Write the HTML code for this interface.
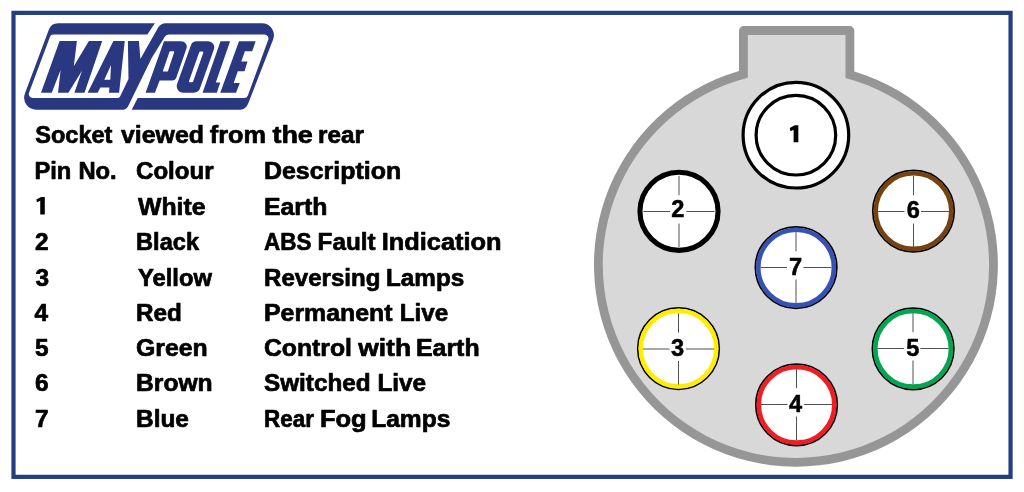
<!DOCTYPE html>
<html><head><meta charset="utf-8"><title>Maypole 7 pin socket</title>
<style>
html,body{margin:0;padding:0;background:#fff;}
body{width:1024px;height:492px;position:relative;overflow:hidden;font-family:"Liberation Sans",sans-serif;}
svg{position:absolute;left:0;top:0;will-change:transform;}
svg text.t{font-size:24.4px;stroke:#000;stroke-width:0.7px;stroke-linejoin:round;}
svg text.d{font-size:23.6px;stroke:#000;stroke-width:0.5px;stroke-linejoin:round;}
svg text{font-family:"Liberation Sans",sans-serif;font-weight:bold;fill:#000;}
</style></head><body>
<svg width="1024" height="492" viewBox="0 0 1024 492">
<rect x="13.5" y="12.85" width="997.05" height="464" fill="none" stroke="#253d82" stroke-width="4.2"/>
<path id="logo" d="M154.90 23.20L58.00 23.20A9.70 9.70 0 0 0 48.91 29.49L24.92 93.49A12.00 12.00 0 0 0 36.15 109.70L122.72 109.70A6.00 6.00 0 0 0 128.11 106.33L151.70 58.00L164.80 36.87A5.00 5.00 0 0 1 169.05 34.50L264.44 34.50A4.00 4.00 0 0 1 268.20 39.87L247.86 95.43A4.00 4.00 0 0 1 244.10 98.06L137.70 98.06L131.70 109.70L239.27 109.70A9.50 9.50 0 0 0 248.12 103.65L273.12 39.56A12.00 12.00 0 0 0 261.94 23.20L165.87 23.20A9.00 9.00 0 0 0 158.03 27.78L140.40 59.10L138.90 41.00L127.90 41.00L128.50 79.11L120.07 96.38A3.00 3.00 0 0 1 117.38 98.06L32.77 98.06A4.00 4.00 0 0 1 29.03 92.66L50.11 36.45A3.00 3.00 0 0 1 52.92 34.50L147.30 34.50ZM41.00 92.70L59.60 41.00L76.90 41.00L73.80 66.30L88.90 41.00L102.20 41.00L84.50 92.70L74.40 92.70L82.00 70.70L68.40 92.70L58.05 92.70L60.60 70.00L51.75 92.70ZM87.65 92.70L113.40 41.00L124.75 41.00L119.10 92.70L109.00 92.70L109.40 87.40L100.35 87.40L97.70 92.70ZM104.30 79.80L110.30 79.80L111.00 65.00ZM164.00 41.15L181.25 41.15A5.50 5.50 0 0 1 186.45 48.46L176.35 77.38A4.50 4.50 0 0 1 172.10 80.40L159.65 80.40L154.90 92.70L145.60 92.70ZM163.06 70.54A0.80 0.80 0 0 0 163.82 71.60L167.22 71.60A0.80 0.80 0 0 0 167.98 71.05L174.16 52.25A0.80 0.80 0 0 0 173.40 51.20L170.27 51.20A0.80 0.80 0 0 0 169.51 51.74ZM190.91 45.14A6.00 6.00 0 0 1 196.56 41.15L208.27 41.15A6.00 6.00 0 0 1 213.92 49.16L200.00 88.37A6.50 6.50 0 0 1 193.88 92.70L183.23 92.70A6.50 6.50 0 0 1 177.11 84.03ZM189.13 80.70A1.20 1.20 0 0 0 190.26 82.30L192.01 82.30A1.20 1.20 0 0 0 193.14 81.50L203.22 53.10A1.20 1.20 0 0 0 202.09 51.50L200.34 51.50A1.20 1.20 0 0 0 199.21 52.30ZM202.60 92.70L220.50 41.15L230.10 41.15L215.80 82.60L220.25 82.60L216.80 92.70ZM220.25 92.70L239.00 41.15L255.65 41.15L252.20 51.20L244.90 51.20L241.30 61.60L247.50 61.60L244.50 71.30L237.80 71.30L233.70 82.95L239.80 82.95L236.00 92.70Z" fill="#293880" fill-rule="evenodd"/>
<path d="M739.00 70.99V30.70A4.6 4.6 0 0 1 743.60 26.10H849.70A4.6 4.6 0 0 1 854.30 30.70V71.42A201.95 201.95 0 1 1 739.00 70.99Z" fill="#969696"/>
<path d="M747.80 77.69V34.90H845.50V78.07A193.15 193.15 0 1 1 747.80 77.69Z" fill="#d8d8d8"/>
<circle cx="795.9" cy="135.2" r="52.8" fill="#fff" stroke="#000" stroke-width="3.2"/>
<circle cx="795.9" cy="135.2" r="39.8" fill="#fff" stroke="#000" stroke-width="3.2"/>
<circle cx="679.0" cy="211.3" r="39.050000000000004" fill="#fff" stroke="#000" stroke-width="5.1"/>
<path d="M643.40 211.5H670.00M686.40 211.5H714.60M679.0 175.90V195.20M679.0 223.50V247.10" stroke="#505050" stroke-width="1" fill="none"/>
<circle cx="913.5" cy="211.05" r="40.7" fill="#fff" stroke="#000" stroke-width="1.8"/>
<circle cx="913.5" cy="211.05" r="37.800000000000004" fill="none" stroke="#754312" stroke-width="4.6"/>
<path d="M877.90 211.5H904.50M920.90 211.5H949.10M913.5 175.90V195.20M913.5 223.50V247.10" stroke="#505050" stroke-width="1" fill="none"/>
<circle cx="796.1" cy="267.55" r="40.7" fill="#fff" stroke="#000" stroke-width="1.8"/>
<circle cx="796.1" cy="267.55" r="37.800000000000004" fill="none" stroke="#3852b4" stroke-width="4.6"/>
<path d="M760.40 267.5H787.00M803.40 267.5H831.60M796.0 231.90V251.20M796.0 279.50V303.10" stroke="#505050" stroke-width="1" fill="none"/>
<circle cx="678.5" cy="348.6" r="40.7" fill="#fff" stroke="#000" stroke-width="1.8"/>
<circle cx="678.5" cy="348.6" r="37.800000000000004" fill="none" stroke="#ffec00" stroke-width="4.6"/>
<path d="M642.90 349.0H669.50M685.90 349.0H714.10M678.5 313.40V332.70M678.5 361.00V384.60" stroke="#505050" stroke-width="1" fill="none"/>
<circle cx="913.1" cy="348.8" r="40.7" fill="#fff" stroke="#000" stroke-width="1.8"/>
<circle cx="913.1" cy="348.8" r="37.800000000000004" fill="none" stroke="#02a650" stroke-width="4.6"/>
<path d="M877.40 348.5H904.00M920.40 348.5H948.60M913.0 312.90V332.20M913.0 360.50V384.10" stroke="#505050" stroke-width="1" fill="none"/>
<circle cx="796.55" cy="404.8" r="40.7" fill="#fff" stroke="#000" stroke-width="1.8"/>
<circle cx="796.55" cy="404.8" r="37.800000000000004" fill="none" stroke="#ee1e23" stroke-width="4.6"/>
<path d="M760.90 404.5H787.50M803.90 404.5H832.10M796.5 368.90V388.20M796.5 416.50V440.10" stroke="#505050" stroke-width="1" fill="none"/>
<text x="677.80" y="217.40" text-anchor="middle" class="d">2</text>
<text x="677.60" y="355.60" text-anchor="middle" class="d">3</text>
<text x="795.60" y="412.00" text-anchor="middle" class="d">4</text>
<text x="912.80" y="355.60" text-anchor="middle" class="d">5</text>
<text x="913.40" y="218.20" text-anchor="middle" class="d">6</text>
<text x="795.50" y="274.80" text-anchor="middle" class="d">7</text>
<path d="M798.33 125.24L798.33 142.25L793.60 142.25L793.60 129.65L790.45 131.20L789.70 128.10L794.87 125.24ZM44.80 196.90L44.80 214.55L40.25 214.55L40.25 200.70L37.05 202.30L36.35 199.45L41.15 196.90Z" fill="#000"/>
<text class="t" id="t0a" transform="translate(35.20 143.00) scale(0.9654 1)">Socket</text>
<text class="t" id="t0b" transform="translate(121.00 143.00) scale(1.0202 1)">viewed</text>
<text class="t" id="t0c" transform="translate(209.80 143.00) scale(1.0377 1)">from</text>
<text class="t" id="t0d" transform="translate(272.40 143.00) scale(1.1070 1)">the</text>
<text class="t" id="t0e" transform="translate(318.00 143.00) scale(0.9950 1)">rear</text>
<text class="t" id="h0a" transform="translate(34.42 178.75) scale(0.9729 1)">Pin</text>
<text class="t" id="h0b" transform="translate(78.42 178.75) scale(0.9751 1)">No.</text>
<text class="t" id="h1" transform="translate(136.01 178.75) scale(0.9872 1)">Colour</text>
<text class="t" id="h2" transform="translate(263.98 178.75) scale(1.0227 1)">Description</text>
<text class="t" id="c1" transform="translate(137.99 214.50) scale(1.0175 1)">White</text>
<text class="t" id="d1" transform="translate(263.98 214.50) scale(1.0180 1)">Earth</text>
<text class="t" id="c2" transform="translate(136.03 250.00) scale(0.9677 1)">Black</text>
<text class="t" id="d2a" transform="translate(263.99 250.00) scale(0.9207 1)">ABS</text>
<text class="t" id="d2b" transform="translate(317.61 250.00) scale(0.9946 1)">Fault</text>
<text class="t" id="d2c" transform="translate(381.76 250.00) scale(1.0402 1)">Indication</text>
<text class="t" id="c3" transform="translate(138.00 285.50) scale(0.9747 1)">Yellow</text>
<text class="t" id="d3a" transform="translate(264.01 285.50) scale(0.9874 1)">Reversing</text>
<text class="t" id="d3b" transform="translate(386.00 285.50) scale(0.9951 1)">Lamps</text>
<text class="t" id="c4" transform="translate(136.00 320.75) scale(0.9936 1)">Red</text>
<text class="t" id="d4a" transform="translate(263.98 320.75) scale(1.0197 1)">Permanent</text>
<text class="t" id="d4b" transform="translate(399.81 320.75) scale(0.9934 1)">Live</text>
<text class="t" id="c5" transform="translate(135.98 355.75) scale(1.0170 1)">Green</text>
<text class="t" id="d5a" transform="translate(263.98 355.75) scale(1.0147 1)">Control</text>
<text class="t" id="d5b" transform="translate(358.20 355.75) scale(1.0836 1)">with</text>
<text class="t" id="d5c" transform="translate(415.98 355.75) scale(1.0206 1)">Earth</text>
<text class="t" id="c6" transform="translate(135.99 391.25) scale(1.0105 1)">Brown</text>
<text class="t" id="d6a" transform="translate(264.00 391.25) scale(0.9964 1)">Switched</text>
<text class="t" id="d6b" transform="translate(377.40 391.25) scale(0.9985 1)">Live</text>
<text class="t" id="c7" transform="translate(135.99 427.00) scale(1.0019 1)">Blue</text>
<text class="t" id="d7a" transform="translate(264.08 427.00) scale(0.9187 1)">Rear</text>
<text class="t" id="d7b" transform="translate(319.95 427.00) scale(1.0459 1)">Fog</text>
<text class="t" id="d7c" transform="translate(371.19 427.00) scale(1.0073 1)">Lamps</text>
<text class="t" id="n2" transform="translate(35.00 250.00) scale(1.0000 1)">2</text>
<text class="t" id="n3" transform="translate(35.50 285.50) scale(1.0000 1)">3</text>
<text class="t" id="n4" transform="translate(34.50 320.75) scale(1.0000 1)">4</text>
<text class="t" id="n5" transform="translate(35.00 355.75) scale(1.0000 1)">5</text>
<text class="t" id="n6" transform="translate(35.00 391.25) scale(1.0000 1)">6</text>
<text class="t" id="n7" transform="translate(35.00 427.00) scale(1.0000 1)">7</text>
</svg>
</body></html>
